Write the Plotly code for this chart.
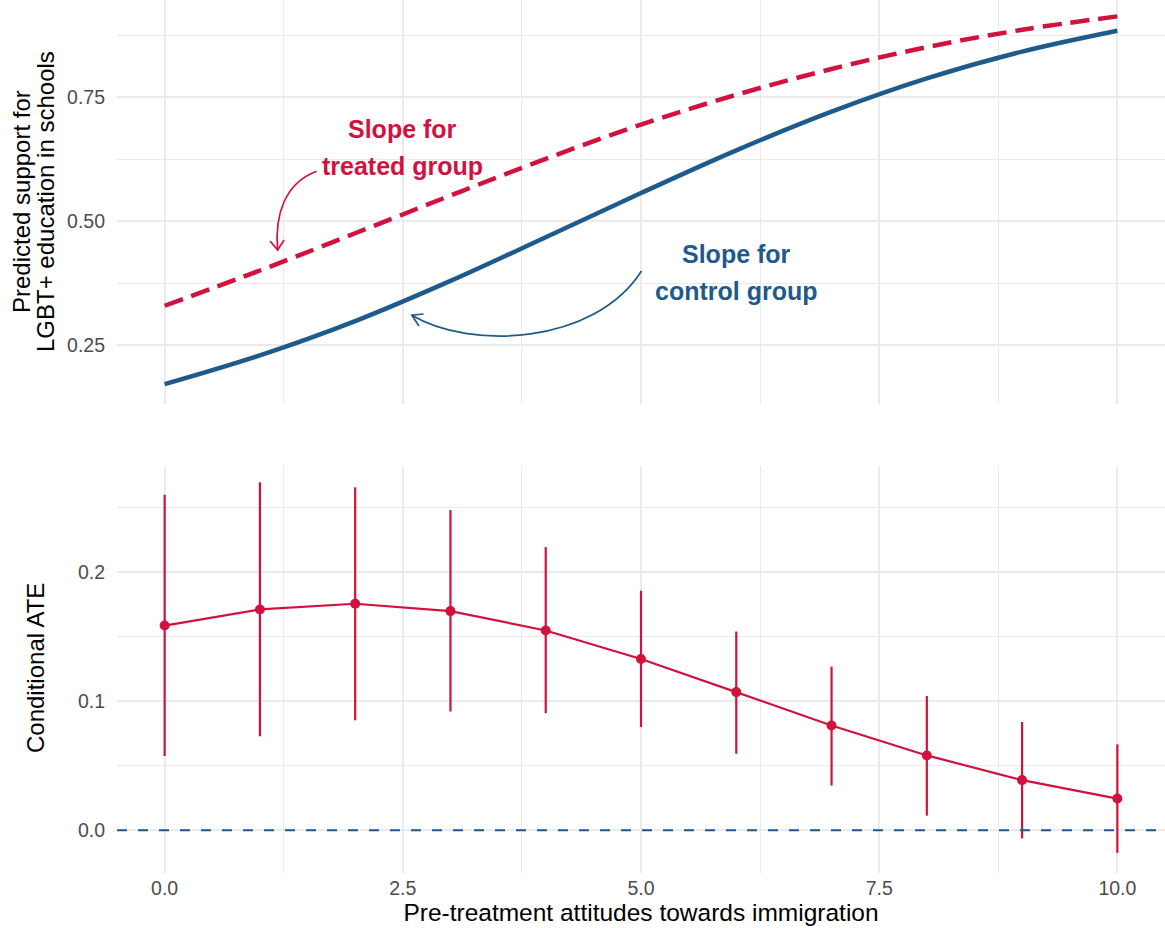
import plotly.graph_objects as go

# ---------------- data ----------------
x_vals = [0, 1, 2, 3, 4, 5, 6, 7, 8, 9, 10]
control_pred = [0.172, 0.230, 0.299, 0.380, 0.468, 0.557, 0.643, 0.721, 0.788, 0.842, 0.884]
treated_pred = [0.330, 0.401, 0.476, 0.552, 0.626, 0.695, 0.755, 0.807, 0.851, 0.886, 0.913]

ate = [0.1585, 0.171, 0.1754, 0.1697, 0.1547, 0.1326, 0.107, 0.0811, 0.058, 0.0389, 0.0246]
ate_upper = [0.2598, 0.2694, 0.2655, 0.2479, 0.2192, 0.1855, 0.1539, 0.1267, 0.104, 0.0839, 0.0666]
ate_lower = [0.0575, 0.0728, 0.0852, 0.092, 0.0907, 0.080, 0.0593, 0.0347, 0.0114, -0.0062, -0.0174]

x_tickvals = [0, 2.5, 5, 7.5, 10]
x_ticktext = ["0.0", "2.5", "5.0", "7.5", "10.0"]
top_tickvals = [0.25, 0.50, 0.75]
top_ticktext = ["0.25", "0.50", "0.75"]
bot_tickvals = [0.0, 0.1, 0.2]
bot_ticktext = ["0.0", "0.1", "0.2"]

x_title = "Pre-treatment attitudes towards immigration"
top_title_lines = ["Predicted support for", "LGBT+ education in schools"]
bot_title = "Conditional ATE"
treated_label = ["Slope for", "treated group"]
control_label = ["Slope for", "control group"]

# ---------------- styling ----------------
RED = "#D1123F"
BLUE = "#1F5A8C"
GRID = "#EBEBEB"
FONT = "Liberation Sans, Arial, Helvetica, sans-serif"

W, H = 1165, 928
ML, MR, MT, MB = 117, 0, 0, 55
TOP_DOMAIN = [0.5372, 1.0]
BOT_DOMAIN = [0.0, 0.4662]
X_RANGE = [-0.5, 10.5]
TOP_RANGE = [0.132, 0.946]
BOT_RANGE = [-0.033, 0.282]

fig = go.Figure()

fig.add_trace(go.Scatter(
    x=x_vals, y=control_pred, mode="lines",
    line=dict(color=BLUE, width=4.5, shape="spline"),
    xaxis="x", yaxis="y", showlegend=False, name="Control"))
fig.add_trace(go.Scatter(
    x=x_vals, y=treated_pred, mode="lines",
    line=dict(color=RED, width=4.5, dash="19px,9px", shape="spline"),
    xaxis="x", yaxis="y", showlegend=False, name="Treated"))

fig.add_trace(go.Scatter(
    x=x_vals, y=ate, mode="lines+markers",
    line=dict(color=RED, width=2.2),
    marker=dict(color=RED, size=10),
    error_y=dict(type="data", symmetric=False,
                 array=[u - a for u, a in zip(ate_upper, ate)],
                 arrayminus=[a - l for a, l in zip(ate, ate_lower)],
                 width=0, thickness=2.2, color=RED),
    xaxis="x2", yaxis="y2", showlegend=False, name="CATE"))

axis_common = dict(showline=False, zeroline=False, ticks="", gridcolor=GRID, gridwidth=2.2,
                   tickfont=dict(size=19.5, color="#4D4D4D", family=FONT))

fig.update_layout(
    width=W, height=H,
    margin=dict(l=ML, r=MR, t=MT, b=MB),
    paper_bgcolor="white", plot_bgcolor="white",
    font=dict(family=FONT),
    xaxis=dict(domain=[0, 1], anchor="y", range=X_RANGE, matches="x2",
               tickmode="array", tickvals=x_tickvals, ticktext=x_ticktext, showticklabels=False,
               minor=dict(tickvals=[1.25, 3.75, 6.25, 8.75], showgrid=True, gridcolor=GRID, gridwidth=1.1),
               **axis_common),
    yaxis=dict(domain=TOP_DOMAIN, anchor="x", range=TOP_RANGE,
               tickmode="array", tickvals=top_tickvals, ticktext=top_ticktext, ticklabelstandoff=11,
               minor=dict(tickvals=[0.375, 0.625, 0.875], showgrid=True, gridcolor=GRID, gridwidth=1.1),
               **axis_common),
    xaxis2=dict(domain=[0, 1], anchor="y2", range=X_RANGE,
                tickmode="array", tickvals=x_tickvals, ticktext=x_ticktext, ticklabelstandoff=1,
                minor=dict(tickvals=[1.25, 3.75, 6.25, 8.75], showgrid=True, gridcolor=GRID, gridwidth=1.1),
                title=dict(text=x_title, font=dict(size=24.5, color="black", family=FONT), standoff=6),
                **axis_common),
    yaxis2=dict(domain=BOT_DOMAIN, anchor="x2", range=BOT_RANGE,
                tickmode="array", tickvals=bot_tickvals, ticktext=bot_ticktext, ticklabelstandoff=11,
                minor=dict(tickvals=[0.05, 0.15, 0.25], showgrid=True, gridcolor=GRID, gridwidth=1.1),
                **axis_common),
)

# zero reference line in bottom panel
fig.add_shape(type="line", xref="paper", x0=0, x1=1, yref="y2", y0=0, y1=0,
              line=dict(color=BLUE, width=2, dash="10px,11px"), layer="above")

# curved annotation arrows (data coordinates of top panel)
arrow_paths = [
    ("M 1.595,0.6011 C 1.259,0.5770 1.154,0.5126 1.186,0.4422", RED),
    ("M 1.107,0.4603 L 1.186,0.4422 L 1.254,0.4623", RED),
    ("M 5.005,0.3999 C 4.512,0.2510 3.200,0.2410 2.595,0.3108", BLUE),
    ("M 2.718,0.3134 L 2.595,0.3108 L 2.669,0.2892", BLUE),
]
for p, c in arrow_paths:
    fig.add_shape(type="path", xref="x", yref="y", path=p,
                  line=dict(color=c, width=1.7), layer="above")

ann_font_red = dict(size=25, color=RED, family=FONT)
ann_font_blue = dict(size=25, color=BLUE, family=FONT)
fig.add_annotation(x=2.5, y=0.6855, xref="x", yref="y", text="<b>%s</b>" % treated_label[0],
                   showarrow=False, font=ann_font_red, xanchor="center", yanchor="middle")
fig.add_annotation(x=2.5, y=0.612, xref="x", yref="y", text="<b>%s</b>" % treated_label[1],
                   showarrow=False, font=ann_font_red, xanchor="center", yanchor="middle")
fig.add_annotation(x=6.0, y=0.434, xref="x", yref="y", text="<b>%s</b>" % control_label[0],
                   showarrow=False, font=ann_font_blue, xanchor="center", yanchor="middle")
fig.add_annotation(x=6.0, y=0.360, xref="x", yref="y", text="<b>%s</b>" % control_label[1],
                   showarrow=False, font=ann_font_blue, xanchor="center", yanchor="middle")

# y-axis titles (placed as rotated text beside each panel)
def px_to_paper_x(px):
    return (px - ML) / (W - ML - MR)

def py_to_paper_y(py):
    return (H - MB - py) / (H - MB - MT)

title_font = dict(size=24, color="black", family=FONT)
fig.add_annotation(x=px_to_paper_x(22), y=py_to_paper_y(202), xref="paper", yref="paper",
                   text=top_title_lines[0], textangle=-90, showarrow=False, font=title_font,
                   xanchor="center", yanchor="middle")
fig.add_annotation(x=px_to_paper_x(46), y=py_to_paper_y(202), xref="paper", yref="paper",
                   text=top_title_lines[1], textangle=-90, showarrow=False, font=title_font,
                   xanchor="center", yanchor="middle")
fig.add_annotation(x=px_to_paper_x(35), y=py_to_paper_y(668), xref="paper", yref="paper",
                   text=bot_title, textangle=-90, showarrow=False, font=title_font,
                   xanchor="center", yanchor="middle")

fig.write_html("out.html")
